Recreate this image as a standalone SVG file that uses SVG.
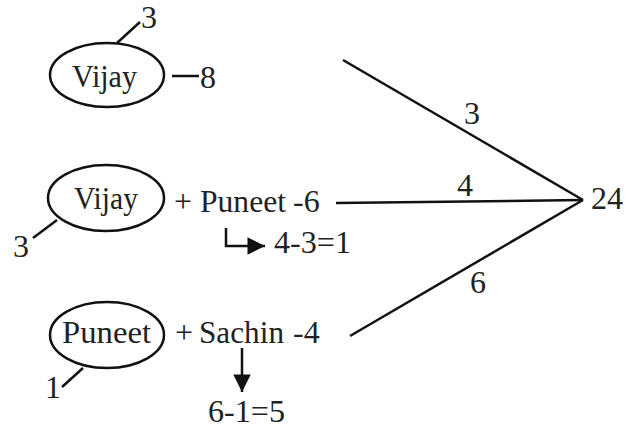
<svg xmlns="http://www.w3.org/2000/svg" width="641" height="430" viewBox="0 0 641 430">
<style>
text{font-family:"Liberation Serif","Times New Roman",serif;font-size:32px;fill:#222}
.ln{stroke:#111;stroke-width:2.5;fill:none}
.el{stroke:#111;stroke-width:2.5;fill:#fff}
</style>
<defs>
<marker id="ah" viewBox="0 0 10 10" refX="10" refY="5" markerWidth="7.5" markerHeight="7" markerUnits="strokeWidth" orient="auto">
<path d="M0,0 L10,5 L0,10 Z" fill="#111"/>
</marker>
</defs>
<rect width="641" height="430" fill="#fff"/>
<g id="connectors">
<line class="ln" x1="117" y1="43" x2="140" y2="22"/>
<line class="ln" x1="172" y1="76" x2="199" y2="76"/>
<line class="ln" x1="57" y1="220" x2="33" y2="238"/>
<line class="ln" x1="83" y1="368" x2="62" y2="387"/>
<line class="ln" x1="343" y1="60" x2="583" y2="200"/>
<line class="ln" x1="336" y1="203" x2="583" y2="200"/>
<line class="ln" x1="350" y1="336" x2="583" y2="200"/>
<path class="ln" d="M226,228 V246 H265" marker-end="url(#ah)"/>
<line class="ln" x1="242" y1="348" x2="242" y2="392" marker-end="url(#ah)"/>
</g>
<g id="n1">
<ellipse class="el" cx="107" cy="75" rx="57" ry="32"/>
<text x="72" y="87" textLength="65" lengthAdjust="spacingAndGlyphs">Vijay</text>
</g>
<g id="n2">
<ellipse class="el" cx="106" cy="198" rx="58" ry="33"/>
<text x="74" y="209" textLength="64" lengthAdjust="spacingAndGlyphs">Vijay</text>
</g>
<g id="n3">
<ellipse class="el" cx="107" cy="335" rx="57" ry="33"/>
<text x="62" y="343" textLength="89" lengthAdjust="spacingAndGlyphs">Puneet</text>
</g>
<g id="labels">
<text x="141" y="28">3</text>
<text x="200" y="88">8</text>
<text x="13" y="257">3</text>
<text x="45" y="398">1</text>
<text x="174" y="212">+</text>
<text x="200" y="212" textLength="86" lengthAdjust="spacingAndGlyphs">Puneet</text>
<text x="293" y="212">-6</text>
<text x="274" y="253" textLength="77" lengthAdjust="spacingAndGlyphs">4-3=1</text>
<text x="175" y="343">+</text>
<text x="199" y="343" textLength="85" lengthAdjust="spacingAndGlyphs">Sachin</text>
<text x="293" y="343">-4</text>
<text x="208" y="422" textLength="77" lengthAdjust="spacingAndGlyphs">6-1=5</text>
<text x="464" y="124">3</text>
<text x="457" y="196">4</text>
<text x="470" y="293">6</text>
<text x="591" y="209" textLength="32" lengthAdjust="spacingAndGlyphs">24</text>
</g>
</svg>
